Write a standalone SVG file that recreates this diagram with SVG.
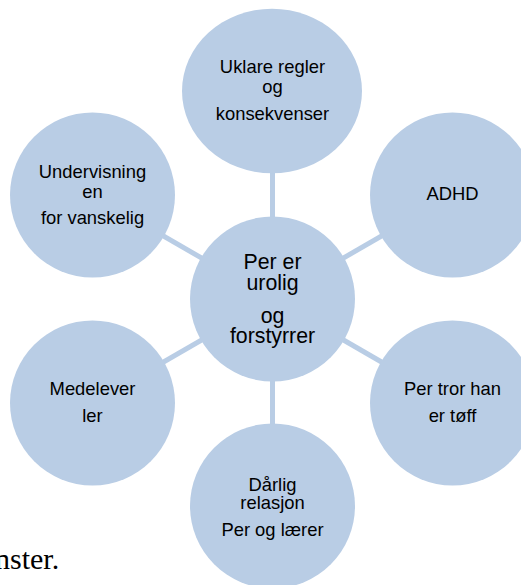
<svg xmlns="http://www.w3.org/2000/svg" width="521" height="585" viewBox="0 0 521 585">
<style>
.n{fill:#B9CDE5;stroke:none}
.c{stroke:#B9CDE5;stroke-width:5;fill:none}
.t{font-family:"Liberation Sans",Arial,sans-serif;font-size:18.4px;fill:#000;text-anchor:middle}
.tc{font-family:"Liberation Sans",Arial,sans-serif;font-size:21.3px;fill:#000;text-anchor:middle}
.body{font-family:"Liberation Serif","Times New Roman",serif;font-size:30px;fill:#000}
</style>
<rect width="521" height="585" fill="#fff"/>
<text class="body" x="-5" y="569">nster.</text>
<g id="connectors">
<line class="c" x1="272.5" y1="91" x2="272.5" y2="299"/>
<line class="c" x1="272.5" y1="299" x2="272.5" y2="506"/>
<line class="c" x1="92.5" y1="195" x2="272.5" y2="299"/>
<line class="c" x1="452.5" y1="195" x2="272.5" y2="299"/>
<line class="c" x1="92.5" y1="403" x2="272.5" y2="299"/>
<line class="c" x1="452.5" y1="403" x2="272.5" y2="299"/>
</g>
<g id="top">
<ellipse class="n" cx="272" cy="91" rx="90" ry="82.3"/>
<text class="t" x="272.5" y="73">Uklare regler</text>
<text class="t" x="272.5" y="92.5">og</text>
<text class="t" x="272.5" y="119.5">konsekvenser</text>
</g>
<g id="left-top">
<circle class="n" cx="92.5" cy="195" r="82.5"/>
<text class="t" x="92.5" y="177.5">Undervisning</text>
<text class="t" x="92.5" y="197.5">en</text>
<text class="t" x="92.5" y="224">for vanskelig</text>
</g>
<g id="right-top">
<circle class="n" cx="452.5" cy="195" r="82.5"/>
<text class="t" x="452.5" y="200">ADHD</text>
</g>
<g id="center">
<circle class="n" cx="272.5" cy="299" r="82.5"/>
<text class="tc" x="272.5" y="268.5">Per er</text>
<text class="tc" x="272.5" y="289.5">urolig</text>
<text class="tc" x="272.5" y="322.5">og</text>
<text class="tc" x="272.5" y="342.5">forstyrrer</text>
</g>
<g id="left-bottom">
<circle class="n" cx="92.5" cy="403" r="82.5"/>
<text class="t" x="92.5" y="395">Medelever</text>
<text class="t" x="92.5" y="421.5">ler</text>
</g>
<g id="right-bottom">
<circle class="n" cx="452.5" cy="403" r="82.5"/>
<text class="t" x="452.5" y="395">Per tror han</text>
<text class="t" x="452.5" y="421.5">er tøff</text>
</g>
<g id="bottom">
<circle class="n" cx="272.5" cy="506" r="82.5"/>
<text class="t" x="272.5" y="490.5">Dårlig</text>
<text class="t" x="272.5" y="508.5">relasjon</text>
<text class="t" x="272.5" y="536">Per og lærer</text>
</g>
</svg>
